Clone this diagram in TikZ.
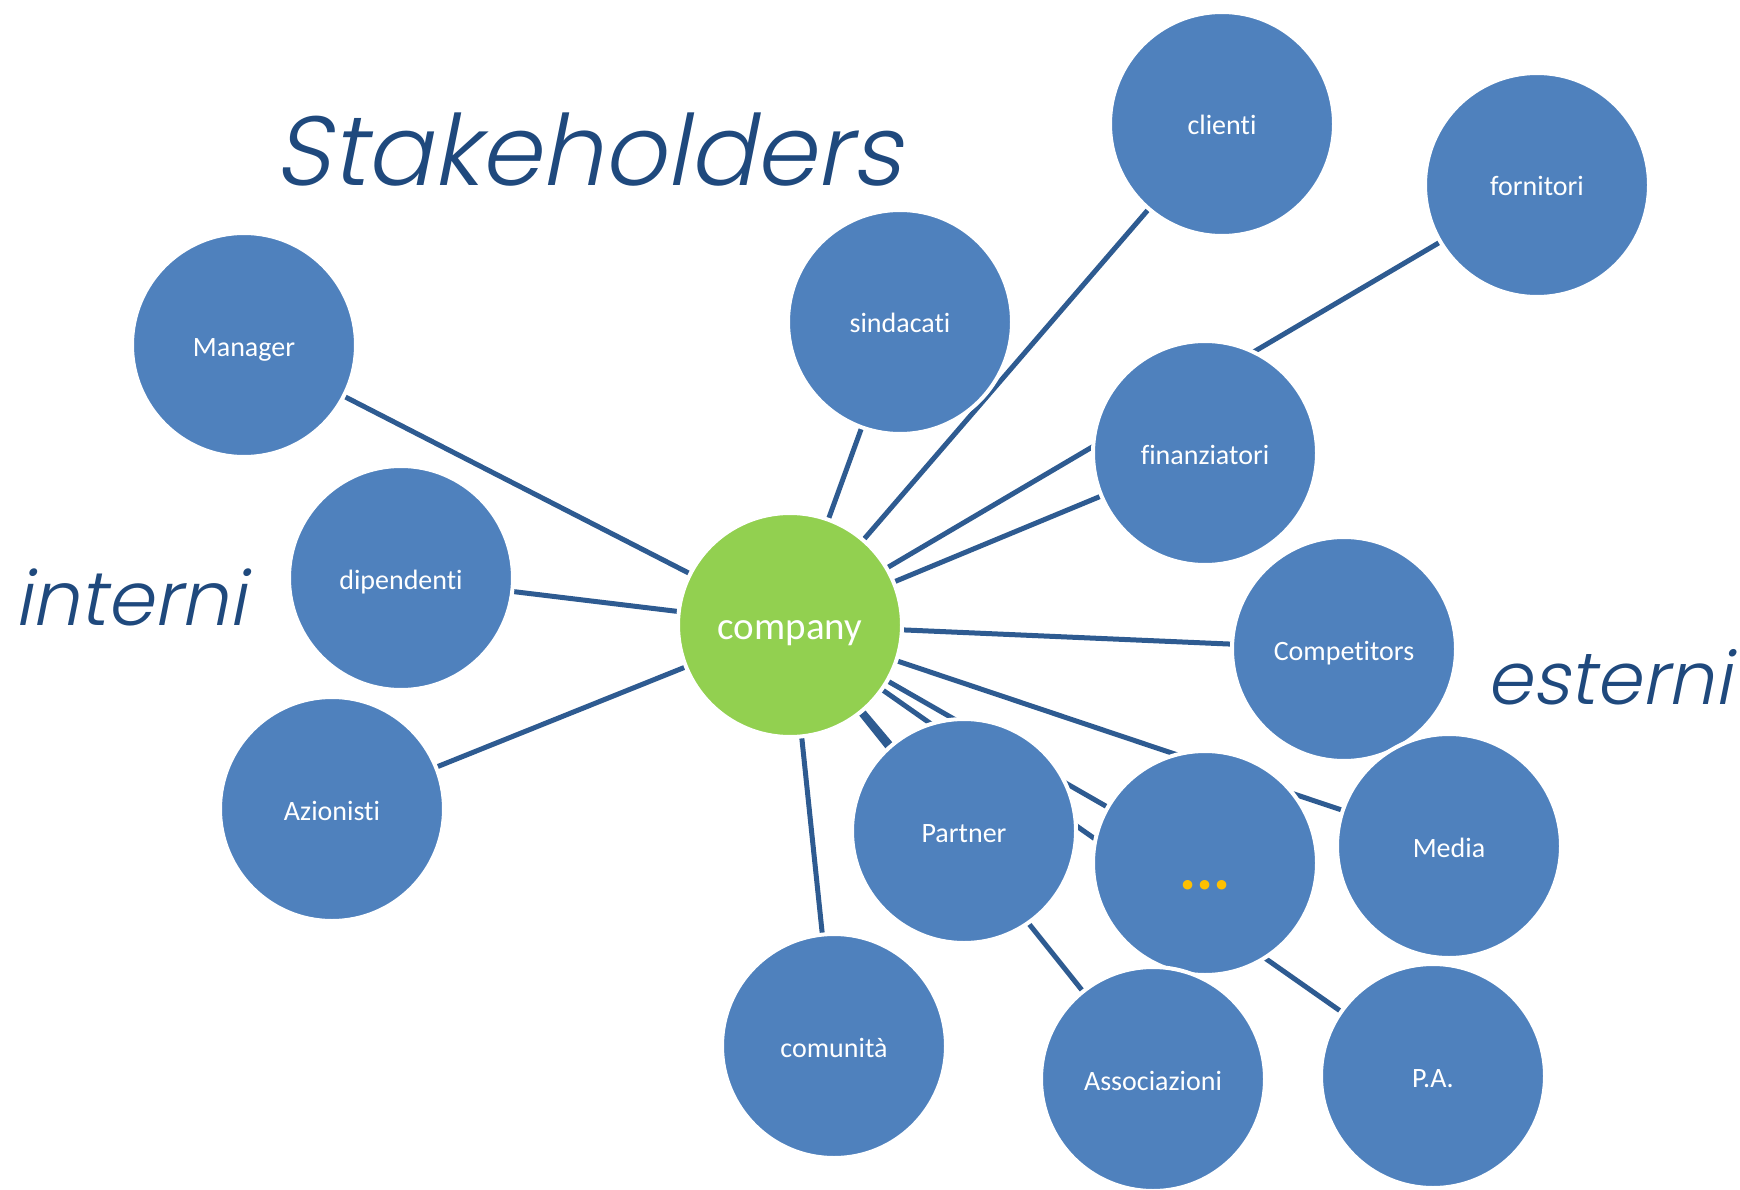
\documentclass[tikz,border=0pt]{standalone}
\usepackage{fontspec}
\usepackage{graphicx}
\setmainfont{Carlito}[Ligatures=NoCommon]
\newfontfamily\titlefont[FakeSlant=0.2]{Poppins Light}
\definecolor{nodeblue}{RGB}{79,129,189}
\definecolor{compgreen}{RGB}{146,208,80}
\definecolor{linkblue}{RGB}{46,91,145}
\definecolor{titleblue}{RGB}{31,73,125}
\definecolor{dotyellow}{RGB}{255,192,0}
\pgfdeclarelayer{background}
\pgfsetlayers{background,main}
\begin{document}
\begin{tikzpicture}[x=1pt,y=-1pt,
  stake/.style={circle,fill=nodeblue,draw=white,line width=4pt,minimum size=224pt,inner sep=0pt,text=white,text height=24pt,text depth=2pt,font=\fontsize{28}{30}\selectfont},
  core/.style={stake,fill=compgreen,text height=30pt,text depth=2pt,font=\fontsize{39}{42}\selectfont},
  link/.style={draw=linkblue,line width=5pt},
  heading/.style={text=titleblue,inner sep=0pt}]
\useasboundingbox (0,0) rectangle (1740,1190);
\node[core]  (company)      at (790,625)  {company};
\node[stake] (clienti)      at (1222,124) {clienti};
\node[stake] (fornitori)    at (1537,185) {fornitori};
\node[stake] (sindacati)    at (900,322)  {sindacati};
\node[stake] (manager)      at (244,345)  {Manager};
\node[stake] (finanziatori) at (1205,453) {finanziatori};
\node[stake] (dipendenti)   at (401,578)  {dipendenti};
\node[stake] (competitors)  at (1344,649) {Competitors};
\node[stake] (azionisti)    at (332,809)  {Azionisti};
\node[stake] (partner)      at (964,831)  {Partner};
\node[stake] (dots)         at (1205,863) {};
\node[text=dotyellow,inner sep=0pt,font=\fontsize{64}{64}\selectfont\bfseries] (dotslabel) at ([yshift=-22pt]dots.center) {...};
\node[stake] (media)        at (1449,846) {Media};
\node[stake] (comunita)     at (834,1046) {comunità};
\node[stake] (associazioni) at (1153,1079) {Associazioni};
\node[stake] (pa)           at (1433,1076) {P.A.};
\begin{pgfonlayer}{background}
\foreach \n in {clienti,fornitori,sindacati,manager,finanziatori,dipendenti,competitors,azionisti,partner,dots,media,comunita,associazioni,pa}
  \draw[link] (company.center) -- (\n.center);
\end{pgfonlayer}
\node[heading] (title) at (588,150) {\resizebox{626pt}{!}{\titlefont Stakeholders}};
\node[heading] (interni) at (130,597) {\resizebox{231pt}{!}{\titlefont interni}};
\node[heading] (esterni) at (1609,677) {\resizebox{244pt}{!}{\titlefont esterni}};
\end{tikzpicture}
\end{document}
